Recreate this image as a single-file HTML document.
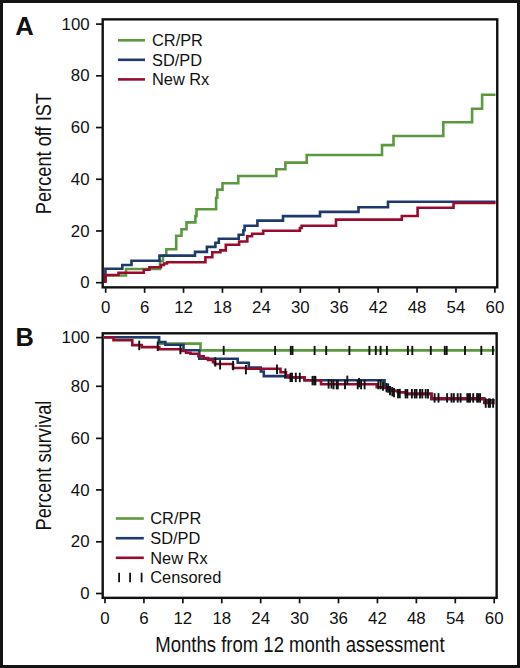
<!DOCTYPE html>
<html><head><meta charset="utf-8"><title>Figure</title>
<style>html,body{margin:0;padding:0;background:#fff;width:520px;height:668px;overflow:hidden}svg{display:block}svg text{font-family:"Liberation Sans",sans-serif}</style>
</head><body>
<svg width="520" height="668" viewBox="0 0 520 668">
<rect x="0" y="0" width="520" height="668" fill="#fff"/>
<rect x="1.5" y="1.5" width="517" height="665" fill="none" stroke="#141414" stroke-width="3"/>
<g fill="#111">
<text x="15.3" y="34.6" font-size="25.6" font-weight="bold">A</text>
<text x="15.6" y="345.7" font-size="25.4" font-weight="bold">B</text>
</g>
<rect x="102.7" y="19.35" width="394.55" height="268.0" fill="none" stroke="#111" stroke-width="2.4"/>
<line x1="96" y1="24.1" x2="102.7" y2="24.1" stroke="#111" stroke-width="1.7"/>
<g fill="#111"><text x="0" y="0" transform="translate(89.60,29.70) scale(1.08,1)" text-anchor="end" font-size="15.6">100</text></g>
<line x1="96" y1="75.82" x2="102.7" y2="75.82" stroke="#111" stroke-width="1.7"/>
<g fill="#111"><text x="0" y="0" transform="translate(89.60,81.42) scale(1.08,1)" text-anchor="end" font-size="15.6">80</text></g>
<line x1="96" y1="127.53999999999999" x2="102.7" y2="127.53999999999999" stroke="#111" stroke-width="1.7"/>
<g fill="#111"><text x="0" y="0" transform="translate(89.60,133.14) scale(1.08,1)" text-anchor="end" font-size="15.6">60</text></g>
<line x1="96" y1="179.26" x2="102.7" y2="179.26" stroke="#111" stroke-width="1.7"/>
<g fill="#111"><text x="0" y="0" transform="translate(89.60,184.86) scale(1.08,1)" text-anchor="end" font-size="15.6">40</text></g>
<line x1="96" y1="230.98" x2="102.7" y2="230.98" stroke="#111" stroke-width="1.7"/>
<g fill="#111"><text x="0" y="0" transform="translate(89.60,236.58) scale(1.08,1)" text-anchor="end" font-size="15.6">20</text></g>
<line x1="96" y1="282.70000000000005" x2="102.7" y2="282.70000000000005" stroke="#111" stroke-width="1.7"/>
<g fill="#111"><text x="0" y="0" transform="translate(89.60,288.30) scale(1.08,1)" text-anchor="end" font-size="15.6">0</text></g>
<line x1="105.70" y1="287.35" x2="105.70" y2="292.85" stroke="#111" stroke-width="1.7"/>
<g fill="#111"><text x="0" y="0" transform="translate(105.70,313.20) scale(1.08,1)" text-anchor="middle" font-size="15.6">0</text></g>
<line x1="144.62" y1="287.35" x2="144.62" y2="292.85" stroke="#111" stroke-width="1.7"/>
<g fill="#111"><text x="0" y="0" transform="translate(144.62,313.20) scale(1.08,1)" text-anchor="middle" font-size="15.6">6</text></g>
<line x1="183.54" y1="287.35" x2="183.54" y2="292.85" stroke="#111" stroke-width="1.7"/>
<g fill="#111"><text x="0" y="0" transform="translate(183.54,313.20) scale(1.08,1)" text-anchor="middle" font-size="15.6">12</text></g>
<line x1="222.46" y1="287.35" x2="222.46" y2="292.85" stroke="#111" stroke-width="1.7"/>
<g fill="#111"><text x="0" y="0" transform="translate(222.46,313.20) scale(1.08,1)" text-anchor="middle" font-size="15.6">18</text></g>
<line x1="261.38" y1="287.35" x2="261.38" y2="292.85" stroke="#111" stroke-width="1.7"/>
<g fill="#111"><text x="0" y="0" transform="translate(261.38,313.20) scale(1.08,1)" text-anchor="middle" font-size="15.6">24</text></g>
<line x1="300.30" y1="287.35" x2="300.30" y2="292.85" stroke="#111" stroke-width="1.7"/>
<g fill="#111"><text x="0" y="0" transform="translate(300.30,313.20) scale(1.08,1)" text-anchor="middle" font-size="15.6">30</text></g>
<line x1="339.22" y1="287.35" x2="339.22" y2="292.85" stroke="#111" stroke-width="1.7"/>
<g fill="#111"><text x="0" y="0" transform="translate(339.22,313.20) scale(1.08,1)" text-anchor="middle" font-size="15.6">36</text></g>
<line x1="378.14" y1="287.35" x2="378.14" y2="292.85" stroke="#111" stroke-width="1.7"/>
<g fill="#111"><text x="0" y="0" transform="translate(378.14,313.20) scale(1.08,1)" text-anchor="middle" font-size="15.6">42</text></g>
<line x1="417.06" y1="287.35" x2="417.06" y2="292.85" stroke="#111" stroke-width="1.7"/>
<g fill="#111"><text x="0" y="0" transform="translate(417.06,313.20) scale(1.08,1)" text-anchor="middle" font-size="15.6">48</text></g>
<line x1="455.98" y1="287.35" x2="455.98" y2="292.85" stroke="#111" stroke-width="1.7"/>
<g fill="#111"><text x="0" y="0" transform="translate(455.98,313.20) scale(1.08,1)" text-anchor="middle" font-size="15.6">54</text></g>
<line x1="494.90" y1="287.35" x2="494.90" y2="292.85" stroke="#111" stroke-width="1.7"/>
<g fill="#111"><text x="0" y="0" transform="translate(494.90,313.20) scale(1.08,1)" text-anchor="middle" font-size="15.6">60</text></g>
<rect x="102.7" y="333.3" width="393.95" height="264.55" fill="none" stroke="#111" stroke-width="2.4"/>
<line x1="96" y1="337.6" x2="102.7" y2="337.6" stroke="#111" stroke-width="1.7"/>
<g fill="#111"><text x="0" y="0" transform="translate(89.60,343.20) scale(1.08,1)" text-anchor="end" font-size="15.6">100</text></g>
<line x1="96" y1="386.3" x2="102.7" y2="386.3" stroke="#111" stroke-width="1.7"/>
<g fill="#111"><text x="0" y="0" transform="translate(89.60,391.90) scale(1.08,1)" text-anchor="end" font-size="15.6">80</text></g>
<line x1="96" y1="438.4" x2="102.7" y2="438.4" stroke="#111" stroke-width="1.7"/>
<g fill="#111"><text x="0" y="0" transform="translate(89.60,444.00) scale(1.08,1)" text-anchor="end" font-size="15.6">60</text></g>
<line x1="96" y1="489.9" x2="102.7" y2="489.9" stroke="#111" stroke-width="1.7"/>
<g fill="#111"><text x="0" y="0" transform="translate(89.60,495.50) scale(1.08,1)" text-anchor="end" font-size="15.6">40</text></g>
<line x1="96" y1="541.8" x2="102.7" y2="541.8" stroke="#111" stroke-width="1.7"/>
<g fill="#111"><text x="0" y="0" transform="translate(89.60,547.40) scale(1.08,1)" text-anchor="end" font-size="15.6">20</text></g>
<line x1="96" y1="593.5" x2="102.7" y2="593.5" stroke="#111" stroke-width="1.7"/>
<g fill="#111"><text x="0" y="0" transform="translate(89.60,599.10) scale(1.08,1)" text-anchor="end" font-size="15.6">0</text></g>
<line x1="105.00" y1="597.85" x2="105.00" y2="603.35" stroke="#111" stroke-width="1.7"/>
<g fill="#111"><text x="0" y="0" transform="translate(105.00,624.20) scale(1.08,1)" text-anchor="middle" font-size="15.6">0</text></g>
<line x1="143.92" y1="597.85" x2="143.92" y2="603.35" stroke="#111" stroke-width="1.7"/>
<g fill="#111"><text x="0" y="0" transform="translate(143.92,624.20) scale(1.08,1)" text-anchor="middle" font-size="15.6">6</text></g>
<line x1="182.84" y1="597.85" x2="182.84" y2="603.35" stroke="#111" stroke-width="1.7"/>
<g fill="#111"><text x="0" y="0" transform="translate(182.84,624.20) scale(1.08,1)" text-anchor="middle" font-size="15.6">12</text></g>
<line x1="221.76" y1="597.85" x2="221.76" y2="603.35" stroke="#111" stroke-width="1.7"/>
<g fill="#111"><text x="0" y="0" transform="translate(221.76,624.20) scale(1.08,1)" text-anchor="middle" font-size="15.6">18</text></g>
<line x1="260.68" y1="597.85" x2="260.68" y2="603.35" stroke="#111" stroke-width="1.7"/>
<g fill="#111"><text x="0" y="0" transform="translate(260.68,624.20) scale(1.08,1)" text-anchor="middle" font-size="15.6">24</text></g>
<line x1="299.60" y1="597.85" x2="299.60" y2="603.35" stroke="#111" stroke-width="1.7"/>
<g fill="#111"><text x="0" y="0" transform="translate(299.60,624.20) scale(1.08,1)" text-anchor="middle" font-size="15.6">30</text></g>
<line x1="338.52" y1="597.85" x2="338.52" y2="603.35" stroke="#111" stroke-width="1.7"/>
<g fill="#111"><text x="0" y="0" transform="translate(338.52,624.20) scale(1.08,1)" text-anchor="middle" font-size="15.6">36</text></g>
<line x1="377.44" y1="597.85" x2="377.44" y2="603.35" stroke="#111" stroke-width="1.7"/>
<g fill="#111"><text x="0" y="0" transform="translate(377.44,624.20) scale(1.08,1)" text-anchor="middle" font-size="15.6">42</text></g>
<line x1="416.36" y1="597.85" x2="416.36" y2="603.35" stroke="#111" stroke-width="1.7"/>
<g fill="#111"><text x="0" y="0" transform="translate(416.36,624.20) scale(1.08,1)" text-anchor="middle" font-size="15.6">48</text></g>
<line x1="455.28" y1="597.85" x2="455.28" y2="603.35" stroke="#111" stroke-width="1.7"/>
<g fill="#111"><text x="0" y="0" transform="translate(455.28,624.20) scale(1.08,1)" text-anchor="middle" font-size="15.6">54</text></g>
<line x1="494.20" y1="597.85" x2="494.20" y2="603.35" stroke="#111" stroke-width="1.7"/>
<g fill="#111"><text x="0" y="0" transform="translate(494.20,624.20) scale(1.08,1)" text-anchor="middle" font-size="15.6">60</text></g>
<path d="M105.4,282.7 V275.5 H126 V269 H160 V261 H163 V255.6 H166.3 V249.2 H176.2 V235.8 H181.5 V229.2 H186.5 V222.4 H195.4 V216 H196.5 V209.2 H216.1 V197.7 H217.3 V189.6 H222.5 V183.3 H238.3 V176 H276.3 V169.2 H285.4 V162.6 H306.7 V155 H382 V145.1 H393.5 V136 H443.3 V122.3 H472.1 V108.8 H482.1 V94.8 H495.5" fill="none" stroke="#5c9840" stroke-width="2.6" stroke-linejoin="miter" stroke-linecap="butt"/>
<path d="M105.4,282.7 V268.8 H122.3 V265 H131.5 V260.8 H159.5 V255.6 H195 V251.9 H206.9 V246.9 H215.4 V242.7 H218.8 V238.8 H238.7 V234.8 H243.4 V230.2 H244.6 V225.7 H257.4 V220.6 H283 V216.1 H320 V211.9 H358.5 V207.3 H388 V201.7 H495.5" fill="none" stroke="#1e3a6c" stroke-width="2.6" stroke-linejoin="miter" stroke-linecap="butt"/>
<path d="M105.4,282.7 V275 H118.5 V272.7 H143.8 V269.7 H149.4 V267.3 H161 V265 H164 V263.5 H167 V262.2 H205.4 V257.3 H212.3 V252.3 H220.4 V250.4 H225.8 V244.8 H239.1 V241.5 H247.3 V236.3 H252.1 V233.8 H263.2 V230.7 H299.9 V228 H301.6 V225.7 H336 V219.6 H401.8 V216 H417.6 V207.7 H453.5 V203 H495.5" fill="none" stroke="#960b2e" stroke-width="2.6" stroke-linejoin="miter" stroke-linecap="butt"/>
<path d="M103.6,337.2 H159 V343.6 H200.5 V350.4 H494.8" fill="none" stroke="#5c9840" stroke-width="2.6" stroke-linejoin="miter" stroke-linecap="butt"/>
<path d="M103.6,337.2 H159 V342.1 H165.4 V344.8 H183.5 V350.2 H199.3 V358.8 H237.7 V362.8 H248.8 V367.5 H260.8 V371.5 H263.8 V376.1 H285.4 V377.5 H304.5 V380.3 H384.5 V388 H390 V390.8 H398 V392.3 H406 V393.9 H431.5 V399.2 H484.3 V400.4 H494.8" fill="none" stroke="#1e3a6c" stroke-width="2.6" stroke-linejoin="miter" stroke-linecap="butt"/>
<path d="M103.6,337.2 H113.5 V340.3 H132.3 V345.1 H141.7 V347.1 H159.3 V349.3 H181 V351 H186 V352.8 H190.5 V353.8 H198.5 V356.2 H203.7 V358 H208 V360 H213 V362.3 H215 V364 H233 V368 H246 V368.8 H280.5 V372.2 H286 V375.6 H289 V377.3 H304.5 V380.3 H321 V384.2 H376.7 V387.3 H388 V389.5 H392 V391 H398 V392.3 H406 V393.9 H431.5 V398.4 H484.3 V402.9 H494.8" fill="none" stroke="#960b2e" stroke-width="2.6" stroke-linejoin="miter" stroke-linecap="butt"/>
<line x1="223.7" y1="345.9" x2="223.7" y2="355.0" stroke="#111" stroke-width="1.9"/>
<line x1="275.1" y1="345.9" x2="275.1" y2="355.0" stroke="#111" stroke-width="1.9"/>
<line x1="290.8" y1="345.9" x2="290.8" y2="355.0" stroke="#111" stroke-width="1.9"/>
<line x1="292.5" y1="345.9" x2="292.5" y2="355.0" stroke="#111" stroke-width="1.9"/>
<line x1="314.6" y1="345.9" x2="314.6" y2="355.0" stroke="#111" stroke-width="1.9"/>
<line x1="326.2" y1="345.9" x2="326.2" y2="355.0" stroke="#111" stroke-width="1.9"/>
<line x1="349.4" y1="345.9" x2="349.4" y2="355.0" stroke="#111" stroke-width="1.9"/>
<line x1="369.4" y1="345.9" x2="369.4" y2="355.0" stroke="#111" stroke-width="1.9"/>
<line x1="375.8" y1="345.9" x2="375.8" y2="355.0" stroke="#111" stroke-width="1.9"/>
<line x1="380.6" y1="345.9" x2="380.6" y2="355.0" stroke="#111" stroke-width="1.9"/>
<line x1="386.9" y1="345.9" x2="386.9" y2="355.0" stroke="#111" stroke-width="1.9"/>
<line x1="407.9" y1="345.9" x2="407.9" y2="355.0" stroke="#111" stroke-width="1.9"/>
<line x1="412.3" y1="345.9" x2="412.3" y2="355.0" stroke="#111" stroke-width="1.9"/>
<line x1="430.8" y1="345.9" x2="430.8" y2="355.0" stroke="#111" stroke-width="1.9"/>
<line x1="444.8" y1="345.9" x2="444.8" y2="355.0" stroke="#111" stroke-width="1.9"/>
<line x1="446.7" y1="345.9" x2="446.7" y2="355.0" stroke="#111" stroke-width="1.9"/>
<line x1="465" y1="345.9" x2="465" y2="355.0" stroke="#111" stroke-width="1.9"/>
<line x1="481.3" y1="345.9" x2="481.3" y2="355.0" stroke="#111" stroke-width="1.9"/>
<line x1="492.9" y1="345.9" x2="492.9" y2="355.0" stroke="#111" stroke-width="1.9"/>
<line x1="139.2" y1="340.7" x2="139.2" y2="350.1" stroke="#111" stroke-width="1.9"/>
<line x1="157.7" y1="341.6" x2="157.7" y2="351.0" stroke="#111" stroke-width="1.9"/>
<line x1="180.4" y1="344.9" x2="180.4" y2="354.3" stroke="#111" stroke-width="1.9"/>
<line x1="215.3" y1="357.2" x2="215.3" y2="366.6" stroke="#111" stroke-width="1.9"/>
<line x1="220.1" y1="360.1" x2="220.1" y2="369.5" stroke="#111" stroke-width="1.9"/>
<line x1="233.1" y1="360.8" x2="233.1" y2="370.2" stroke="#111" stroke-width="1.9"/>
<line x1="245.9" y1="365.0" x2="245.9" y2="374.4" stroke="#111" stroke-width="1.9"/>
<line x1="277" y1="364.6" x2="277" y2="374.0" stroke="#111" stroke-width="1.9"/>
<line x1="285.4" y1="368.4" x2="285.4" y2="377.8" stroke="#111" stroke-width="1.9"/>
<line x1="290.5" y1="372.7" x2="290.5" y2="382.1" stroke="#111" stroke-width="1.9"/>
<line x1="292" y1="372.7" x2="292" y2="382.1" stroke="#111" stroke-width="1.9"/>
<line x1="295.8" y1="372.7" x2="295.8" y2="382.1" stroke="#111" stroke-width="1.9"/>
<line x1="299.8" y1="372.7" x2="299.8" y2="382.1" stroke="#111" stroke-width="1.9"/>
<line x1="312.5" y1="375.9" x2="312.5" y2="385.3" stroke="#111" stroke-width="1.9"/>
<line x1="314.2" y1="375.9" x2="314.2" y2="385.3" stroke="#111" stroke-width="1.9"/>
<line x1="315.4" y1="375.9" x2="315.4" y2="385.3" stroke="#111" stroke-width="1.9"/>
<line x1="328.6" y1="379.2" x2="328.6" y2="388.6" stroke="#111" stroke-width="1.9"/>
<line x1="331.5" y1="379.2" x2="331.5" y2="388.6" stroke="#111" stroke-width="1.9"/>
<line x1="333.5" y1="379.9" x2="333.5" y2="389.3" stroke="#111" stroke-width="1.9"/>
<line x1="336.7" y1="379.9" x2="336.7" y2="389.3" stroke="#111" stroke-width="1.9"/>
<line x1="337.8" y1="379.9" x2="337.8" y2="389.3" stroke="#111" stroke-width="1.9"/>
<line x1="345" y1="379.9" x2="345" y2="389.3" stroke="#111" stroke-width="1.9"/>
<line x1="347.3" y1="375.6" x2="347.3" y2="385.0" stroke="#111" stroke-width="1.9"/>
<line x1="357.7" y1="379.9" x2="357.7" y2="389.3" stroke="#111" stroke-width="1.9"/>
<line x1="359.1" y1="377.9" x2="359.1" y2="387.3" stroke="#111" stroke-width="1.9"/>
<line x1="361.1" y1="379.9" x2="361.1" y2="389.3" stroke="#111" stroke-width="1.9"/>
<line x1="364.6" y1="379.9" x2="364.6" y2="389.3" stroke="#111" stroke-width="1.9"/>
<line x1="378.4" y1="379.9" x2="378.4" y2="389.3" stroke="#111" stroke-width="1.9"/>
<line x1="380.7" y1="379.9" x2="380.7" y2="389.3" stroke="#111" stroke-width="1.9"/>
<line x1="383" y1="381.4" x2="383" y2="390.8" stroke="#111" stroke-width="1.9"/>
<line x1="386.5" y1="382.9" x2="386.5" y2="392.3" stroke="#111" stroke-width="1.9"/>
<line x1="388.2" y1="383.4" x2="388.2" y2="392.8" stroke="#111" stroke-width="1.9"/>
<line x1="390" y1="385.9" x2="390" y2="395.3" stroke="#111" stroke-width="1.9"/>
<line x1="392.3" y1="386.9" x2="392.3" y2="396.3" stroke="#111" stroke-width="1.9"/>
<line x1="394" y1="387.9" x2="394" y2="397.3" stroke="#111" stroke-width="1.9"/>
<line x1="398" y1="388.9" x2="398" y2="398.3" stroke="#111" stroke-width="1.9"/>
<line x1="399.8" y1="388.9" x2="399.8" y2="398.3" stroke="#111" stroke-width="1.9"/>
<line x1="405.6" y1="389.0" x2="405.6" y2="398.4" stroke="#111" stroke-width="1.9"/>
<line x1="407.3" y1="389.0" x2="407.3" y2="398.4" stroke="#111" stroke-width="1.9"/>
<line x1="411.9" y1="389.0" x2="411.9" y2="398.4" stroke="#111" stroke-width="1.9"/>
<line x1="414.8" y1="389.0" x2="414.8" y2="398.4" stroke="#111" stroke-width="1.9"/>
<line x1="416.5" y1="389.0" x2="416.5" y2="398.4" stroke="#111" stroke-width="1.9"/>
<line x1="420" y1="389.0" x2="420" y2="398.4" stroke="#111" stroke-width="1.9"/>
<line x1="422.3" y1="389.0" x2="422.3" y2="398.4" stroke="#111" stroke-width="1.9"/>
<line x1="425.7" y1="389.0" x2="425.7" y2="398.4" stroke="#111" stroke-width="1.9"/>
<line x1="428" y1="389.0" x2="428" y2="398.4" stroke="#111" stroke-width="1.9"/>
<line x1="434.6" y1="393.2" x2="434.6" y2="402.6" stroke="#111" stroke-width="1.9"/>
<line x1="438.5" y1="393.2" x2="438.5" y2="402.6" stroke="#111" stroke-width="1.9"/>
<line x1="447.1" y1="393.2" x2="447.1" y2="402.6" stroke="#111" stroke-width="1.9"/>
<line x1="451.5" y1="393.2" x2="451.5" y2="402.6" stroke="#111" stroke-width="1.9"/>
<line x1="453.8" y1="393.2" x2="453.8" y2="402.6" stroke="#111" stroke-width="1.9"/>
<line x1="457.7" y1="393.2" x2="457.7" y2="402.6" stroke="#111" stroke-width="1.9"/>
<line x1="460.6" y1="393.2" x2="460.6" y2="402.6" stroke="#111" stroke-width="1.9"/>
<line x1="467.3" y1="393.2" x2="467.3" y2="402.6" stroke="#111" stroke-width="1.9"/>
<line x1="468.8" y1="393.2" x2="468.8" y2="402.6" stroke="#111" stroke-width="1.9"/>
<line x1="470.1" y1="393.2" x2="470.1" y2="402.6" stroke="#111" stroke-width="1.9"/>
<line x1="473.2" y1="393.2" x2="473.2" y2="402.6" stroke="#111" stroke-width="1.9"/>
<line x1="477.1" y1="393.2" x2="477.1" y2="402.6" stroke="#111" stroke-width="1.9"/>
<line x1="478.4" y1="393.2" x2="478.4" y2="402.6" stroke="#111" stroke-width="1.9"/>
<line x1="480.1" y1="393.2" x2="480.1" y2="402.6" stroke="#111" stroke-width="1.9"/>
<line x1="485.7" y1="398.4" x2="485.7" y2="407.8" stroke="#111" stroke-width="1.9"/>
<line x1="488.7" y1="398.4" x2="488.7" y2="407.8" stroke="#111" stroke-width="1.9"/>
<line x1="490" y1="398.4" x2="490" y2="407.8" stroke="#111" stroke-width="1.9"/>
<line x1="493.1" y1="398.4" x2="493.1" y2="407.8" stroke="#111" stroke-width="1.9"/>
<line x1="118" y1="40.3" x2="145" y2="40.3" stroke="#5c9840" stroke-width="2.6"/>
<g fill="#111"><text transform="translate(152.0,46.199999999999996) scale(1.05,1)" font-size="15.6">CR/PR</text></g>
<line x1="118" y1="59.8" x2="145" y2="59.8" stroke="#1e3a6c" stroke-width="2.6"/>
<g fill="#111"><text transform="translate(152.0,65.7) scale(1.05,1)" font-size="15.6">SD/PD</text></g>
<line x1="118" y1="79.4" x2="145" y2="79.4" stroke="#960b2e" stroke-width="2.6"/>
<g fill="#111"><text transform="translate(152.0,85.30000000000001) scale(1.05,1)" font-size="15.6">New Rx</text></g>
<line x1="115.8" y1="518.5" x2="143.8" y2="518.5" stroke="#5c9840" stroke-width="2.6"/>
<g fill="#111"><text transform="translate(150.3,524.4) scale(1.05,1)" font-size="15.6">CR/PR</text></g>
<line x1="115.8" y1="538.2" x2="143.8" y2="538.2" stroke="#1e3a6c" stroke-width="2.6"/>
<g fill="#111"><text transform="translate(150.3,544.1) scale(1.05,1)" font-size="15.6">SD/PD</text></g>
<line x1="115.8" y1="557.8" x2="143.8" y2="557.8" stroke="#960b2e" stroke-width="2.6"/>
<g fill="#111"><text transform="translate(150.3,563.6999999999999) scale(1.05,1)" font-size="15.6">New Rx</text></g>
<line x1="119.1" y1="572.7" x2="119.1" y2="582.3" stroke="#111" stroke-width="1.8"/>
<line x1="130.1" y1="572.7" x2="130.1" y2="582.3" stroke="#111" stroke-width="1.8"/>
<line x1="141.6" y1="572.7" x2="141.6" y2="582.3" stroke="#111" stroke-width="1.8"/>
<g fill="#111"><text transform="translate(150.3,583.3) scale(1.05,1)" font-size="15.6">Censored</text></g>
<g fill="#111">
<text transform="translate(50.9,153.6) rotate(-90) scale(0.856,1)" text-anchor="middle" font-size="21.3">Percent off IST</text>
<text transform="translate(50.5,465.6) rotate(-90) scale(0.858,1)" text-anchor="middle" font-size="21.3">Percent survival</text>
<text transform="translate(299.9,652.2) scale(0.870,1)" text-anchor="middle" font-size="21.3">Months from 12 month assessment</text>
</g>
</svg>
</body></html>
